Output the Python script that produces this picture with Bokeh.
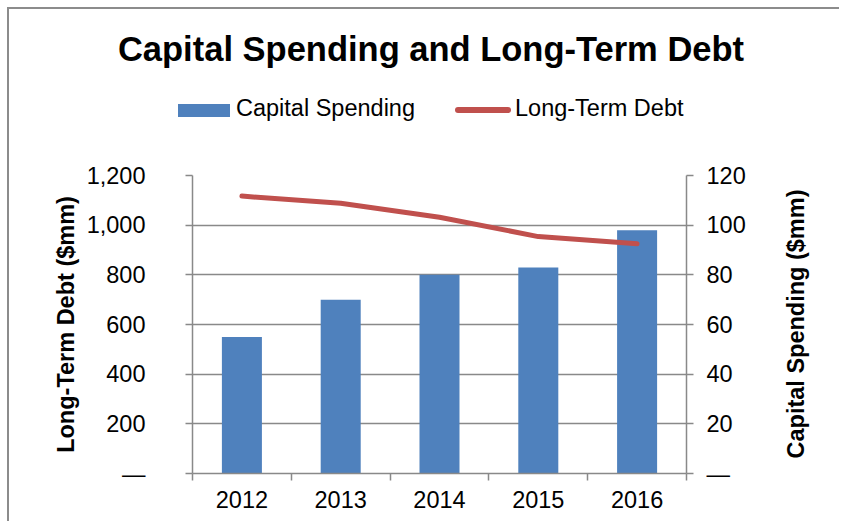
from bokeh.plotting import figure
from bokeh.layouts import column, row
from bokeh.models import (Range1d, LinearAxis, FixedTicker, NumeralTickFormatter,
                          ColumnDataSource, Div)
from bokeh.embed import file_html
from bokeh.resources import INLINE

years = ["2012", "2013", "2014", "2015", "2016"]
capital_spending = [55, 70, 80, 83, 98]
long_term_debt = [1117, 1088, 1032, 954, 925]
debt_ticks = [0, 200, 400, 600, 800, 1000, 1200]
cap_ticks = [0, 20, 40, 60, 80, 100, 120]
title_text = "Capital Spending and Long-Term Debt"
series_names = ["Capital Spending", "Long-Term Debt"]
left_title = "Long-Term Debt ($mm)"
right_title = "Capital Spending ($mm)"

FONT = "Liberation Sans"
GRAY = "#898989"
BLUE = "#4F81BD"
RED = "#C0504D"
W = 830
W_CHART = 770
H_HEAD = 130
H_CHART = 382
MB_L, MB_R, MB_T, MB_B = 183, 93, 36, 48

xpos = list(range(1, len(years) + 1))
src = ColumnDataSource(dict(x=xpos, year=years, cap=capital_spending, debt=long_term_debt))

# ---------------- header (title + legend) ----------------
txt = f"font-family:'{FONT}';color:black;white-space:nowrap;position:absolute;line-height:1;"
header_html = (
    f'<div style="position:relative;width:{W}px;height:{H_HEAD}px;">'
    f'<div style="{txt}left:422px;top:23px;transform:translateX(-50%);'
    f'font-size:34.5px;font-weight:bold;">{title_text}</div>'
    f'<div style="position:absolute;left:169px;top:95px;width:52px;height:13px;'
    f'background:{BLUE};"></div>'
    f'<div style="{txt}left:227px;top:88px;font-size:23.5px;">{series_names[0]}</div>'
    f'<div style="position:absolute;left:446px;top:98px;width:56px;height:6px;'
    f'border-radius:3px;background:{RED};"></div>'
    f'<div style="{txt}left:506px;top:88px;font-size:23.5px;">{series_names[1]}</div>'
    '</div>'
)
head = Div(text=header_html, width=W, height=H_HEAD, margin=0)

# ---------------- chart ----------------
p = figure(width=W_CHART, height=H_CHART, output_backend="svg", toolbar_location=None,
           x_range=Range1d(0.5, len(years) + 0.5),
           y_range=Range1d(debt_ticks[0], debt_ticks[-1]),
           min_border_left=MB_L, min_border_right=MB_R, min_border_top=MB_T,
           min_border_bottom=MB_B)
p.extra_y_ranges = {"cap": Range1d(cap_ticks[0], cap_ticks[-1])}
p.outline_line_color = None

bars = p.vbar(x="x", top="cap", width=0.405, source=src, y_range_name="cap",
              fill_color=BLUE, line_color=None)
line = p.line(x="x", y="debt", source=src, line_color=RED, line_width=5,
              line_cap="round", line_join="round")

# x axis
xax = p.xaxis[0]
xax.ticker = FixedTicker(ticks=xpos, minor_ticks=[i + 0.5 for i in range(len(years) + 1)])
xax.major_label_overrides = {x: y for x, y in zip(xpos, years)}
xax.major_tick_line_color = None
xax.major_tick_out = 7
xax.major_tick_in = 0
xax.minor_tick_line_color = GRAY
xax.minor_tick_line_width = 1.5
xax.minor_tick_out = 7
xax.minor_tick_in = 0
xax.major_label_standoff = 10
xax.axis_line_color = GRAY
xax.axis_line_width = 1.5
xax.major_label_text_font = FONT
xax.major_label_text_font_size = "23.5px"
xax.major_label_text_color = "black"
p.xgrid.visible = False

# left axis
yax = p.yaxis[0]
yax.ticker = FixedTicker(ticks=debt_ticks)
yax.formatter = NumeralTickFormatter(format="0,0")
yax.major_label_overrides = {0: "\u2014"}
yax.axis_label = left_title
yax.axis_label_text_font = FONT
yax.axis_label_text_font_size = "23.5px"
yax.axis_label_text_font_style = "bold"
yax.axis_label_text_color = "black"
yax.axis_label_standoff = 5
yax.major_label_text_font = FONT
yax.major_label_text_font_size = "23.5px"
yax.major_label_text_color = "black"
yax.major_label_standoff = 40
yax.major_tick_out = 7
yax.major_tick_in = 0
yax.major_tick_line_color = GRAY
yax.major_tick_line_width = 1.5
yax.minor_tick_line_color = None
yax.axis_line_color = GRAY
yax.axis_line_width = 1.5
p.ygrid.ticker = FixedTicker(ticks=debt_ticks)
p.ygrid.grid_line_color = GRAY
p.ygrid.grid_line_width = 1.5

# right axis
rax = LinearAxis(y_range_name="cap", ticker=FixedTicker(ticks=cap_ticks))
rax.major_label_overrides = {0: "\u2014"}
rax.major_label_text_font = FONT
rax.major_label_text_font_size = "23.5px"
rax.major_label_text_color = "black"
rax.major_label_standoff = 13
rax.major_tick_out = 7
rax.major_tick_in = 0
rax.major_tick_line_color = GRAY
rax.major_tick_line_width = 1.5
rax.minor_tick_line_color = None
rax.axis_line_color = GRAY
rax.axis_line_width = 1.5
p.add_layout(rax, "right")

# right axis title (reads bottom-to-top, centred on the plot frame)
frame_mid = MB_T + (H_CHART - MB_T - MB_B) // 2
right_html = (
    f'<div style="position:relative;width:{W - W_CHART}px;height:{H_CHART}px;">'
    f'<div style="{txt}left:18px;top:{frame_mid}px;'
    f'transform:translate(-50%,-50%) rotate(-90deg);font-size:23.5px;'
    f'font-weight:bold;">{right_title}</div></div>'
)
rlab = Div(text=right_html, width=W - W_CHART, height=H_CHART, margin=0)

layout = column(head, row(p, rlab, spacing=0), spacing=0)
layout.styles = {"margin-left": "7px", "margin-top": "7px",
                 "border-left": "2px solid #8c8c8c", "border-top": "2px solid #8c8c8c"}

open("out.html", "w").write(file_html(layout, INLINE))
